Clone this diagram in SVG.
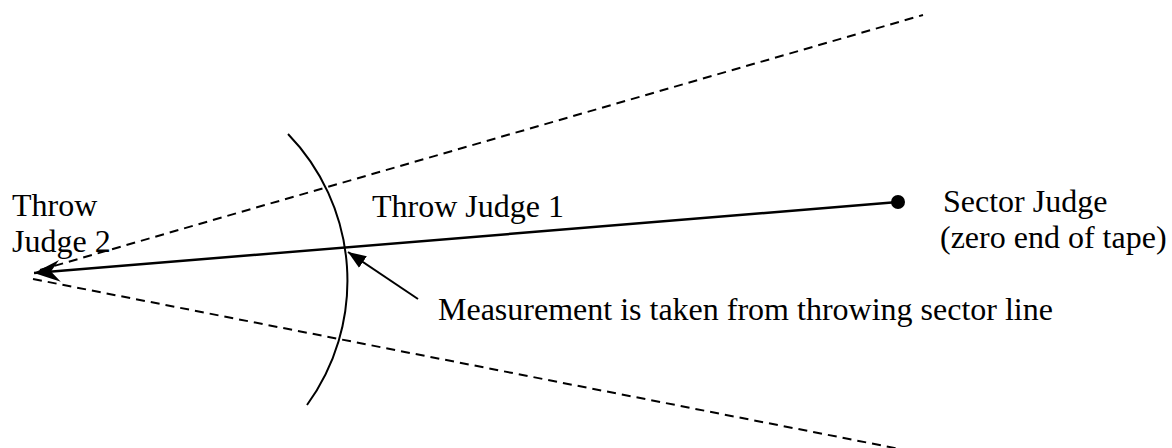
<svg xmlns="http://www.w3.org/2000/svg" width="1172" height="448" viewBox="0 0 1172 448">
<style>
text{font-family:"Liberation Serif","Times New Roman",serif;font-size:32px;fill:#000}
.dash{stroke:#000;stroke-width:2;stroke-dasharray:9 6;fill:none}
.solid{stroke:#000;fill:none}
</style>
<defs>
<marker id="barb" markerWidth="30" markerHeight="24" refX="27" refY="12" orient="auto" markerUnits="userSpaceOnUse">
<path d="M27,12 L1,1 L10,12 L1,23 Z" fill="#000"/>
</marker>
<marker id="tri" markerWidth="20" markerHeight="16" refX="18" refY="8" orient="auto" markerUnits="userSpaceOnUse">
<path d="M0,1 L18,8 L0,15 Z" fill="#000"/>
</marker>
</defs>
<rect width="1172" height="448" fill="#fff"/>
<g id="sector-lines">
<line class="dash" x1="40" y1="270" x2="923" y2="15"/>
<line class="dash" x1="33" y1="279" x2="905" y2="450"/>
</g>
<g id="arc">
<path class="solid" stroke-width="2" d="M288,134 A211,211 0 0 1 307,405"/>
</g>
<g id="connectors">
<line class="solid" stroke-width="2.5" x1="898" y1="202" x2="34" y2="273" marker-end="url(#barb)"/>
<line class="solid" stroke-width="2" x1="418" y1="299" x2="348" y2="252" marker-end="url(#tri)"/>
</g>
<g id="sector-judge">
<circle cx="898" cy="202" r="7" fill="#000"/>
<text x="943" y="212">Sector Judge</text>
<text x="940" y="248">(zero end of tape)</text>
</g>
<g id="throw-judge-2">
<text x="12" y="216">Throw</text>
<text x="12" y="252">Judge 2</text>
</g>
<g id="throw-judge-1">
<text x="372" y="217">Throw Judge 1</text>
</g>
<g id="measurement-label">
<text x="438" y="320">Measurement is taken from throwing sector line</text>
</g>
</svg>
